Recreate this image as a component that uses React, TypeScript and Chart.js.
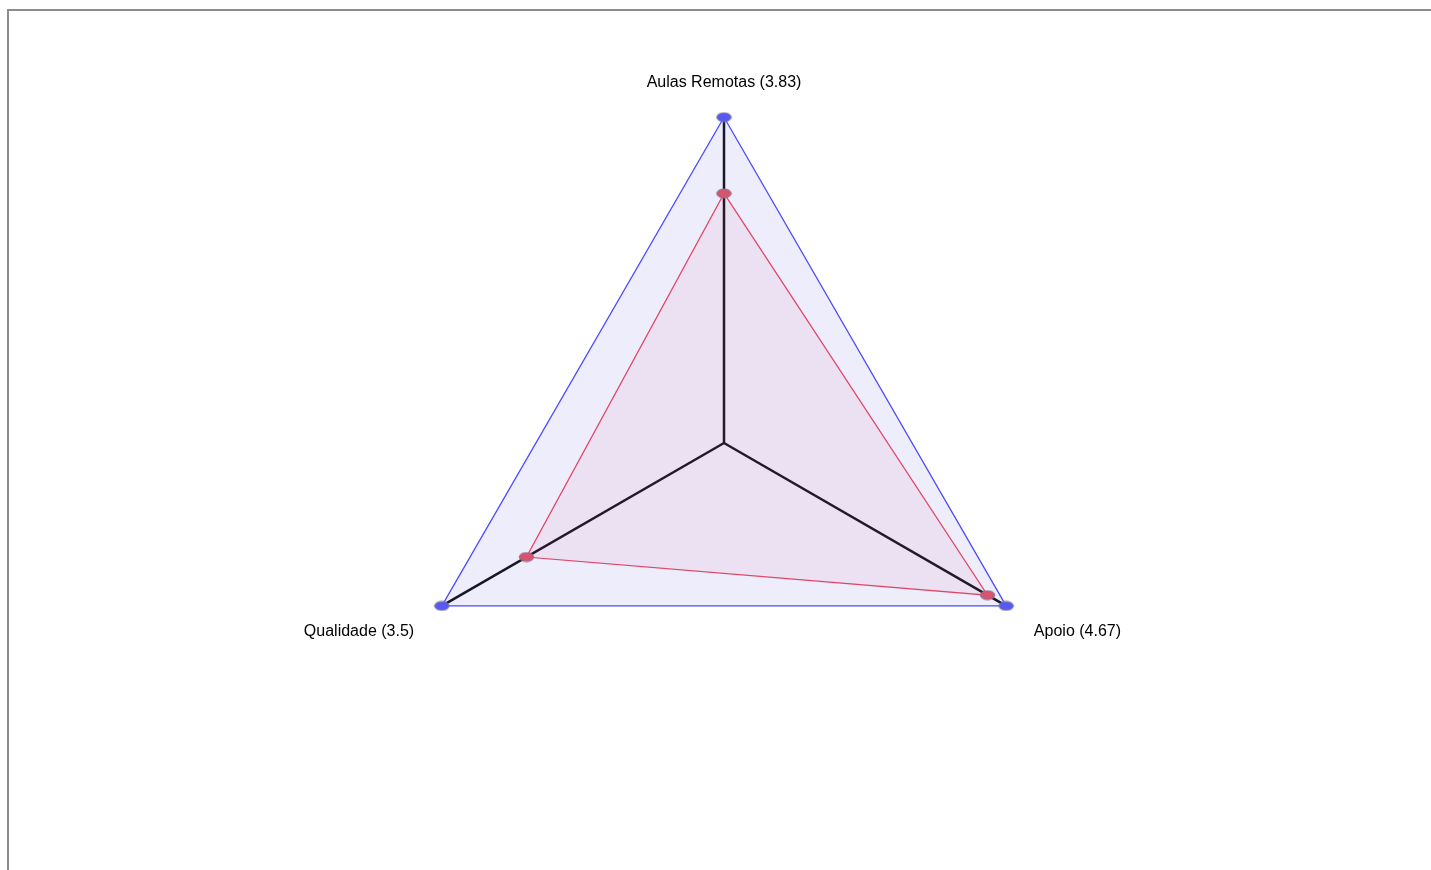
import { useEffect, useRef } from "react"
import { Chart, registerables } from "chart.js"

Chart.register(...registerables)

const categories = ["Aulas Remotas (3.83)", "Apoio (4.67)", "Qualidade (3.5)"]
const maxValues = [5, 5, 5]
const scoreValues = [3.83, 4.67, 3.5]

// ponto em forma de elipse, como no original
function makeEllipse(fill: string) {
  const c = document.createElement("canvas")
  c.width = 17
  c.height = 11
  const ctx = c.getContext("2d")
  if (ctx) {
    ctx.beginPath()
    ctx.ellipse(8.5, 5.5, 7.3, 4.5, 0, 0, Math.PI * 2)
    ctx.fillStyle = fill
    ctx.fill()
    ctx.lineWidth = 1
    ctx.strokeStyle = "rgba(128,128,128,0.9)"
    ctx.stroke()
  }
  return c
}

function RadarChart() {
  const chartRef = useRef<HTMLCanvasElement>(null)
  const chartInstance = useRef<Chart | null>(null)

  useEffect(() => {
    if (!chartRef.current) return
    if (chartInstance.current) chartInstance.current.destroy()

    const ctx = chartRef.current.getContext("2d")
    if (!ctx) return

    chartInstance.current = new Chart(ctx, {
      type: "radar",
      data: {
        labels: categories,
        datasets: [
          {
            data: maxValues,
            borderColor: "rgba(75, 75, 255, 1)",
            backgroundColor: "rgba(80, 80, 230, 0.1)",
            borderWidth: 1.3,
            fill: true,
            pointStyle: makeEllipse("rgb(88, 88, 245)"),
          },
          {
            data: scoreValues,
            borderColor: "rgba(242, 70, 90, 1)",
            backgroundColor: "rgba(240, 75, 100, 0.07)",
            borderWidth: 1.3,
            fill: true,
            pointStyle: makeEllipse("rgb(230, 85, 100)"),
          },
        ],
      },
      options: {
        animation: false,
        responsive: true,
        maintainAspectRatio: false,
        plugins: {
          legend: { display: false },
          tooltip: { enabled: false },
        },
        scales: {
          r: {
            min: 0,
            max: 5,
            ticks: { display: false },
            grid: { display: false },
            angleLines: { color: "#111111", lineWidth: 2.5 },
            pointLabels: {
              color: "#000000",
              font: { family: "'Liberation Sans', Arial, sans-serif", size: 16 },
              padding: (context) => (context.index === 0 ? 25 : 32),
            },
          },
        },
      },
    })

    return () => {
      if (chartInstance.current) {
        chartInstance.current.destroy()
        chartInstance.current = null
      }
    }
  }, [])

  return <canvas ref={chartRef} />
}

export default function App() {
  useEffect(() => {
    document.body.style.overflow = "hidden"
  }, [])

  return (
    <div>
      <div
        style={{
          position: "absolute",
          left: 7,
          top: 9,
          width: 1500,
          height: 1000,
          border: "2px solid #8c8c8c",
          boxSizing: "border-box",
        }}
      />
      <div style={{ position: "absolute", left: 224, top: 51, width: 1000, height: 740 }}>
        <RadarChart />
      </div>
    </div>
  )
}
